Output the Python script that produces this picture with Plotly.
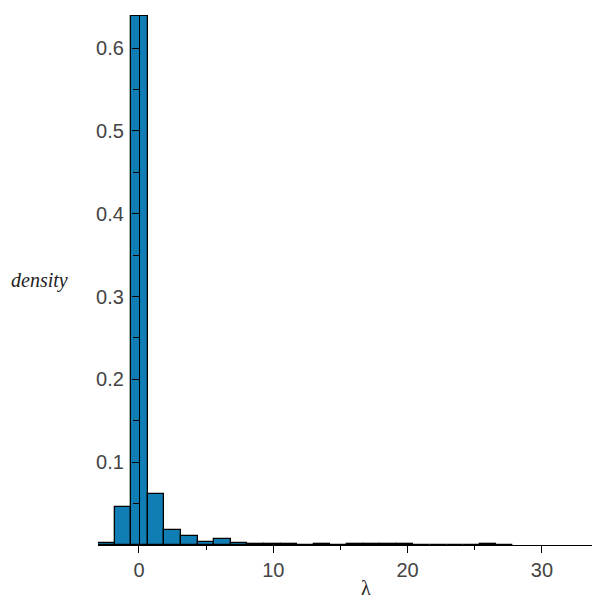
import plotly.graph_objects as go

# Histogram bins (left edges) and densities
bin_width = 1.236
bin_lefts = [-3.05, -1.814, -0.578, 0.658, 1.894, 3.13, 4.366, 5.602, 6.838, 8.074,
             9.31, 10.546, 11.782, 13.018, 14.254, 15.49, 16.726, 17.962, 19.198,
             20.434, 21.67, 22.906, 24.142, 25.378, 26.614]
densities = [0.003, 0.046, 0.639, 0.062, 0.018, 0.011, 0.004, 0.0075, 0.002, 0.001,
             0.0008, 0.0008, 0.0, 0.0008, 0.0, 0.001, 0.001, 0.0008, 0.0008,
             0.0005, 0.0, 0.0, 0.0, 0.001, 0.0]

x_ticks = [0, 10, 20, 30]
y_ticks = [0.1, 0.2, 0.3, 0.4, 0.5, 0.6]
x_range = [-3.05, 33.73]
y_range = [0, 0.64]

centers = [l + bin_width / 2 for l in bin_lefts]

fig = go.Figure(go.Bar(
    x=centers, y=densities, width=bin_width,
    marker=dict(color="rgb(16,125,180)", line=dict(color="black", width=1.3)),
    cliponaxis=False,
))

tick_font = dict(family="Liberation Sans, Arial, sans-serif", size=20, color="#444")
yaxis_pos = (0 - x_range[0]) / (x_range[1] - x_range[0])

fig.update_layout(
    width=592, height=601,
    margin=dict(l=98, r=0, t=15, b=56, autoexpand=False),
    paper_bgcolor="white", plot_bgcolor="white",
    showlegend=False,
    bargap=0,
    xaxis=dict(range=x_range, showgrid=False, zeroline=False, showline=True,
               automargin=False,
               linecolor="black", linewidth=1.2, ticks="outside", ticklen=7,
               tickcolor="black", tickvals=x_ticks, tickfont=tick_font,
               minor=dict(ticks="outside", ticklen=4, tickcolor="black", dtick=5, tick0=0)),
    yaxis=dict(range=y_range, showgrid=False, zeroline=False, showline=True,
               automargin=False,
               linecolor="black", linewidth=1.2, ticks="outside", ticklen=7,
               tickcolor="black", tickvals=y_ticks, tickfont=tick_font,
               ticklabelstandoff=4,
               anchor="free", position=yaxis_pos,
               minor=dict(ticks="outside", ticklen=6, tickcolor="black", dtick=0.05, tick0=0)),
    annotations=[
        dict(text="density", xref="paper", yref="paper", x=0, y=0.5,
             xanchor="center", yanchor="middle", xshift=-59, showarrow=False,
             font=dict(family="Liberation Serif, Times New Roman, serif", size=20,
                       color="#222", style="italic")),
        dict(text="λ", xref="paper", yref="paper", x=0.543, y=0,
             xanchor="center", yanchor="middle", yshift=-43, showarrow=False,
             font=dict(family="Liberation Serif, Times New Roman, serif", size=20,
                       color="#222")),
    ],
)

fig.write_html("out.html", config={"displayModeBar": False},
               post_script="document.body.style.margin='0';document.body.style.padding='0';")
